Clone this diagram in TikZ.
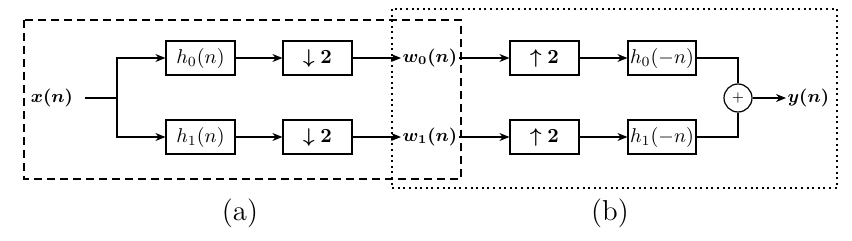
\documentclass[tikz,border=0pt]{standalone}
\usepackage{amsmath}
\usetikzlibrary{arrows.meta}
\begin{document}
\begin{tikzpicture}[x=0.5pt,y=-0.5pt, line width=0.6pt, >={Stealth[length=5pt,width=4pt]},
 blk/.style={draw, minimum width=34.5pt, minimum height=17pt, inner sep=0pt, font=\fontsize{10}{12}\selectfont},
 lbl/.style={inner sep=0.5pt, font=\fontsize{9}{11}\selectfont\boldmath},
 capt/.style={font=\rmfamily\fontsize{14.4}{17}\selectfont},
 sumnode/.style={circle, draw, minimum size=14pt, inner sep=0pt, font=\fontsize{7}{8}\selectfont}]
\useasboundingbox (0,0) rectangle (852,241);
\draw[dash pattern=on 4pt off 2.5pt] (24,20) rectangle (461,179);
\draw[dash pattern=on 1pt off 1.8pt, line width=1pt] (392,9) rectangle (837,188);

\node[lbl] (x) at (52,98) {$x(n)$};
\coordinate (br) at (117,98);
\node[blk] (h0) at (200.5,58) {$h_0(n)$};
\node[blk] (d0) at (317.5,58) {$\boldsymbol{\downarrow}\mathbf{2}$};
\node[blk] (h1) at (200.5,137) {$h_1(n)$};
\node[blk] (d1) at (317.5,137) {$\boldsymbol{\downarrow}\mathbf{2}$};
\node[lbl, anchor=west] (w0) at (401,58) {$w_0(n)$};
\node[lbl, anchor=west] (w1) at (401,137) {$w_1(n)$};
\node[blk] (u0) at (544.5,58) {$\boldsymbol{\uparrow}\mathbf{2}$};
\node[blk] (u1) at (544.5,137) {$\boldsymbol{\uparrow}\mathbf{2}$};
\node[blk, minimum width=34pt] (g0) at (662,58) {$h_0(-n)$};
\node[blk, minimum width=34pt] (g1) at (662,137) {$h_1(-n)$};
\node[sumnode] (sum) at (738,98) {$+$};
\node[lbl, anchor=west] (y) at (786,98) {$y(n)$};
\node[capt] (ca) at (240,213) {(a)};
\node[capt] (cb) at (610,213) {(b)};

\draw ([xshift=5pt]x.east) -- (br);
\draw[->] (br) |- (h0);
\draw[->] (br) |- (h1);
\draw[->] (h0) -- (d0);
\draw[->] (h1) -- (d1);
\draw[->] (d0) -- (w0);
\draw[->] (d1) -- (w1);
\draw[->] (w0) -- (u0);
\draw[->] (w1) -- (u1);
\draw[->] (u0) -- (g0);
\draw[->] (u1) -- (g1);
\draw (g0.east) -| (sum.north);
\draw (g1.east) -| (sum.south);
\draw[->] (sum) -- (y);
\end{tikzpicture}
\end{document}
